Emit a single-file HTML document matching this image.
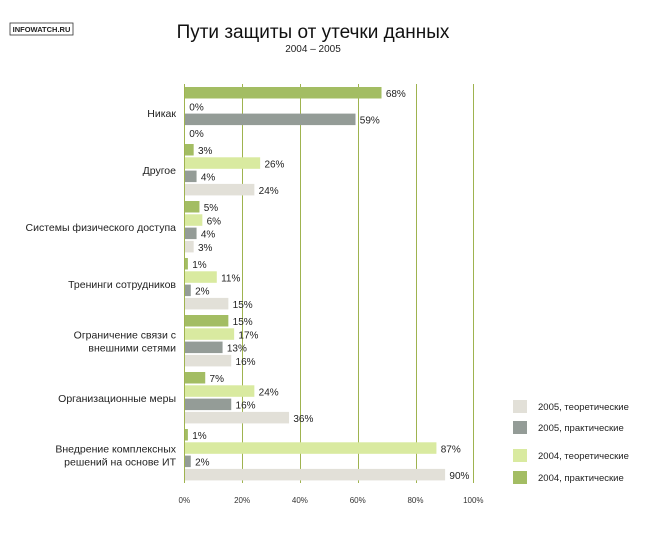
<!DOCTYPE html>
<html><head><meta charset="utf-8"><style>
body{margin:0;background:#fff;width:660px;height:539px;overflow:hidden;font-family:"Liberation Sans",sans-serif}
</style></head><body>
<svg width="660" height="539" xmlns="http://www.w3.org/2000/svg" font-family="Liberation Sans, sans-serif">
<rect x="10" y="23" width="63" height="12" fill="#fff" stroke="#333" stroke-width="0.8"/>
<text x="41.5" y="32" font-size="7.5" font-weight="bold" text-anchor="middle" fill="#222">INFOWATCH.RU</text>
<text x="313" y="38" font-size="19" text-anchor="middle" fill="#111">Пути защиты от утечки данных</text>
<text x="313" y="52" font-size="10" text-anchor="middle" fill="#222">2004 – 2005</text>
<g id="grid"></g><g id="bars"></g><g id="legend"></g>
</svg>
<script>
const categories=[["Никак"],["Другое"],["Системы физического доступа"],["Тренинги сотрудников"],["Ограничение связи с","внешними сетями"],["Организационные меры"],["Внедрение комплексных","решений на основе ИТ"]];
const seriesNames=["2004, практические","2004, теоретические","2005, практические","2005, теоретические"];
const p2004=[68,3,5,1,15,7,1];
const t2004=[0,26,6,11,17,24,87];
const p2005=[59,4,4,2,13,16,2];
const t2005=[0,24,3,15,16,36,90];
const ticks=[0,20,40,60,80,100];
const colors=["#a3bd63","#d9eaa0","#949c97","#e2e0d8"];
const series=[p2004,t2004,p2005,t2005];
const NS="http://www.w3.org/2000/svg";
const x=v=>184.3+v*2.89;
const y=(c,s)=>87+c*57+s*13.3;
function mk(tag,attrs,parent,txt){const e=document.createElementNS(NS,tag);for(const k in attrs)e.setAttribute(k,attrs[k]);if(txt!==undefined)e.textContent=txt;parent.appendChild(e);return e;}
const g=document.getElementById('grid'),b=document.getElementById('bars'),l=document.getElementById('legend');
ticks.forEach(t=>{
 const gx=Math.round(x(t))+0.5;
 const ln=mk('line',{x1:gx,x2:gx,y1:84,y2:483,stroke:"#9fb34f","stroke-width":1},g);
 
 
 const tx=mk('text',{x:x(t),y:503,"font-size":8,"text-anchor":"middle",fill:"#333"},g,t+"%");
 
 
});
categories.forEach((c,ci)=>{
 const cy=y(ci,0)+26;
 const n=c.length;
 c.forEach((line,li)=>{
  const t=mk('text',{x:176,y:cy+4+(li-(n-1)/2)*13,"font-size":10.5,"text-anchor":"end",fill:"#222"},b,line);
  
  
 });
 series.forEach((s,si)=>{
  const v=s[ci],yy=y(ci,si);
  const r=mk('rect',{x:x(0)+0.7,y:yy,width:Math.max(0,x(v)-x(0)),height:11.5,fill:colors[si]},b);
  
  
  const t=mk('text',{x:x(v)+5,y:yy+10,"font-size":10,fill:"#222"},b,v+"%");
  
  
 });
});
[3,2,1,0].forEach((si,i)=>{
 const yy=[400,421,449,471][i];
 const r=mk('rect',{x:513,y:yy,width:14,height:13,fill:colors[si]},l);
 
 
 const t=mk('text',{x:538,y:yy+10,"font-size":9.5,fill:"#222"},l,seriesNames[si]);
 
 
});
</script>
</body></html>
